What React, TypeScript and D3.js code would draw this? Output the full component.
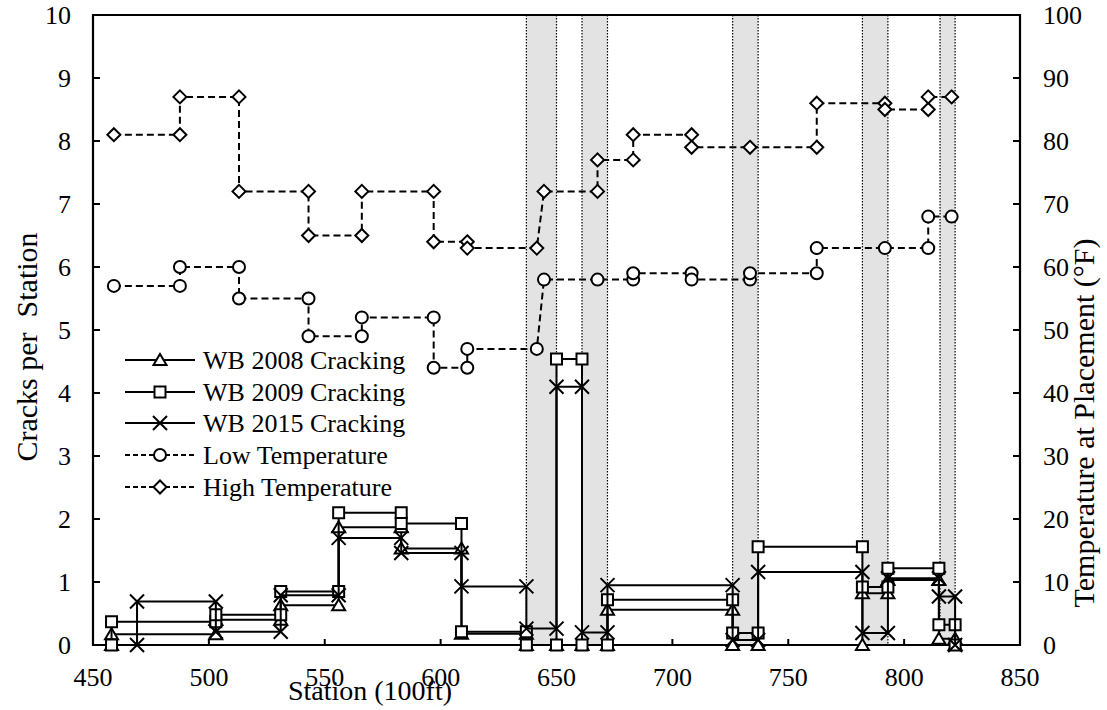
import React from "react";
import * as d3 from "d3";

// ---- data ----
const xTicks = [450, 500, 550, 600, 650, 700, 750, 800, 850];
const yLeftTicks = [0, 1, 2, 3, 4, 5, 6, 7, 8, 9, 10];
const yRightTicks = [0, 10, 20, 30, 40, 50, 60, 70, 80, 90, 100];

const bandStart = [637, 661, 726, 782, 815.5];
const bandEnd = [650, 672, 737, 793, 822];

const wb2008X = [458, 458, 503, 503, 531, 531, 556, 556, 583, 583, 609, 609, 637, 637, 650, 661, 672, 672, 726, 726, 737, 782, 782, 793, 793, 815, 815, 822, 822];
const wb2008Y = [0, 0.17, 0.17, 0.4, 0.4, 0.63, 0.63, 1.87, 1.87, 1.53, 1.53, 0.18, 0.18, 0, 0, 0, 0, 0.56, 0.56, 0, 0, 0, 0.82, 0.82, 1.03, 1.03, 0.1, 0.1, 0];

const wb2009X = [458, 458, 503, 503, 531, 531, 556, 556, 583, 583, 609, 609, 637, 637, 650, 650, 661, 661, 672, 672, 726, 726, 737, 737, 782, 782, 793, 793, 815, 815, 822, 822];
const wb2009Y = [0, 0.37, 0.37, 0.48, 0.48, 0.85, 0.85, 2.1, 2.1, 1.93, 1.93, 0.21, 0.21, 0, 0, 4.54, 4.54, 0, 0, 0.72, 0.72, 0.19, 0.19, 1.56, 1.56, 0.92, 0.92, 1.22, 1.22, 0.32, 0.32, 0];

const wb2015X = [469, 469, 503, 503, 531, 531, 556, 556, 583, 583, 609, 609, 637, 637, 650, 650, 661, 661, 672, 672, 726, 726, 737, 737, 782, 782, 793, 793, 815, 815, 822, 822];
const wb2015Y = [0, 0.69, 0.69, 0.21, 0.21, 0.79, 0.79, 1.7, 1.7, 1.46, 1.46, 0.93, 0.93, 0.26, 0.26, 4.1, 4.1, 0.2, 0.2, 0.95, 0.95, 0.08, 0.08, 1.16, 1.16, 0.19, 0.19, 1.06, 1.06, 0.77, 0.77, 0];

const lowX = [459, 487.5, 487.5, 513, 513, 543, 543, 566, 566, 597, 597, 611.5, 611.5, 641.5, 644.6, 667.7, 683.1, 683.1, 708.3, 708.3, 733.5, 733.5, 762.3, 762.3, 791.7, 810.4, 810.4, 820.5];
const lowY = [57, 57, 60, 60, 55, 55, 49, 49, 52, 52, 44, 44, 47, 47, 58, 58, 58, 59, 59, 58, 58, 59, 59, 63, 63, 63, 68, 68];

const highX = [459, 487.5, 487.5, 513, 513, 543, 543, 566, 566, 597, 597, 611.5, 611.5, 641.5, 644.6, 667.7, 667.7, 683.1, 683.1, 708.3, 708.3, 733.5, 762.3, 762.3, 791.7, 791.7, 810.4, 810.4, 820.5];
const highY = [81, 81, 87, 87, 72, 72, 65, 65, 72, 72, 64, 64, 63, 63, 72, 72, 77, 77, 81, 81, 79, 79, 79, 86, 86, 85, 85, 87, 87];

const legendLabels = ["WB 2008 Cracking", "WB 2009 Cracking", "WB 2015 Cracking", "Low Temperature", "High Temperature"];

// ---- layout ----
const W = 1107;
const H = 710;
const L = 93, R = 1020, T = 15, B = 645;
const FONT = "Liberation Serif, Times New Roman, serif";

const x = d3.scaleLinear().domain([450, 850]).range([L, R]);
const yL = d3.scaleLinear().domain([0, 10]).range([B, T]);
const yR = d3.scaleLinear().domain([0, 100]).range([B, T]);

type Kind = "tri" | "sq" | "x" | "circ" | "dia";

function markerPath(kind: Kind): string {
  switch (kind) {
    case "tri":
      return "M0,-6L6.5,5L-6.5,5Z";
    case "sq":
      return "M-5.5,-5.5H5.5V5.5H-5.5Z";
    case "x":
      return "M-7,-7L7,7M-7,7L7,-7";
    case "circ":
      return "M6,0A6,6 0 1,1 -6,0A6,6 0 1,1 6,0Z";
    case "dia":
      return "M0,-6.5L6.5,0L0,6.5L-6.5,0Z";
  }
}

function Marker({ kind, cx, cy }: { kind: Kind; cx: number; cy: number }) {
  return (
    <path
      d={markerPath(kind)}
      transform={`translate(${cx},${cy})`}
      fill={kind === "x" ? "none" : "#fff"}
      stroke="#000"
      strokeWidth={2}
    />
  );
}

function Series({ xs, ys, yScale, kind, dashed }: { xs: number[]; ys: number[]; yScale: d3.ScaleLinear<number, number>; kind: Kind; dashed?: boolean }) {
  const pts: [number, number][] = xs.map((v, i) => [x(v), yScale(ys[i])]);
  const line = d3.line()(pts) || "";
  return (
    <g>
      <path d={line} fill="none" stroke="#000" strokeWidth={2} strokeDasharray={dashed ? "7,4" : undefined} />
      {pts.map((p, i) => (
        <Marker key={i} kind={kind} cx={p[0]} cy={p[1]} />
      ))}
    </g>
  );
}

export default function App() {
  const legendKinds: Kind[] = ["tri", "sq", "x", "circ", "dia"];
  const legendY = [360, 392, 423, 455, 487];
  return (
    <svg width={W} height={H} style={{ display: "block", position: "absolute", left: 0, top: 0, fontFamily: FONT }}>
      <rect x={0} y={0} width={W} height={H} fill="#fff" />
      {/* shaded bands */}
      {bandStart.map((s, i) => (
        <g key={i}>
          <rect x={x(s)} y={T} width={x(bandEnd[i]) - x(s)} height={B - T} fill="#e3e3e3" />
          <line x1={x(s)} x2={x(s)} y1={T} y2={B} stroke="#000" strokeWidth={1.2} strokeDasharray="1.5,1.5" />
          <line x1={x(bandEnd[i])} x2={x(bandEnd[i])} y1={T} y2={B} stroke="#000" strokeWidth={1.2} strokeDasharray="1.5,1.5" />
        </g>
      ))}

      {/* frame */}
      <path d={`M${L},${T}H${R}V${B}H${L}Z`} fill="none" stroke="#000" strokeWidth={2.2} />
      {/* ticks */}
      {xTicks.map((t) => (
        <g key={"xt" + t}>
          <line x1={x(t)} x2={x(t)} y1={B} y2={B - 6} stroke="#000" strokeWidth={2} />
          <text x={x(t)} y={686} fontSize={26} textAnchor="middle">{t}</text>
        </g>
      ))}
      {yLeftTicks.map((t) => (
        <g key={"yl" + t}>
          <line x1={L} x2={L + 7} y1={yL(t)} y2={yL(t)} stroke="#000" strokeWidth={2} />
          <text x={71} y={yL(t) + 9} fontSize={26} textAnchor="end">{t}</text>
        </g>
      ))}
      {yRightTicks.map((t) => (
        <g key={"yr" + t}>
          <line x1={R} x2={R - 7} y1={yR(t)} y2={yR(t)} stroke="#000" strokeWidth={2} />
          <text x={1043} y={yR(t) + 9} fontSize={26} textAnchor="start">{t}</text>
        </g>
      ))}

      {/* series */}
      <Series xs={lowX} ys={lowY} yScale={yR} kind="circ" dashed />
      <Series xs={highX} ys={highY} yScale={yR} kind="dia" dashed />
      <Series xs={wb2008X} ys={wb2008Y} yScale={yL} kind="tri" />
      <Series xs={wb2009X} ys={wb2009Y} yScale={yL} kind="sq" />
      <Series xs={wb2015X} ys={wb2015Y} yScale={yL} kind="x" />

      {/* legend */}
      {legendLabels.map((lab, i) => (
        <g key={lab}>
          <line x1={125} x2={195} y1={legendY[i]} y2={legendY[i]} stroke="#000" strokeWidth={2} strokeDasharray={i >= 3 ? "5,3" : undefined} />
          <Marker kind={legendKinds[i]} cx={160} cy={legendY[i]} />
          <text x={203} y={legendY[i] + 9} fontSize={26}>{lab}</text>
        </g>
      ))}

      {/* axis titles */}
      <text x={370} y={700} fontSize={28} textAnchor="middle">Station (100ft)</text>
      <text transform={`translate(37,347) rotate(-90)`} fontSize={30} textAnchor="middle" style={{ whiteSpace: "pre" }}>{"Cracks per  Station"}</text>
      <text transform={`translate(1094,423) rotate(-90)`} fontSize={30} textAnchor="middle">Temperature at Placement (°F)</text>
    </svg>
  );
}
